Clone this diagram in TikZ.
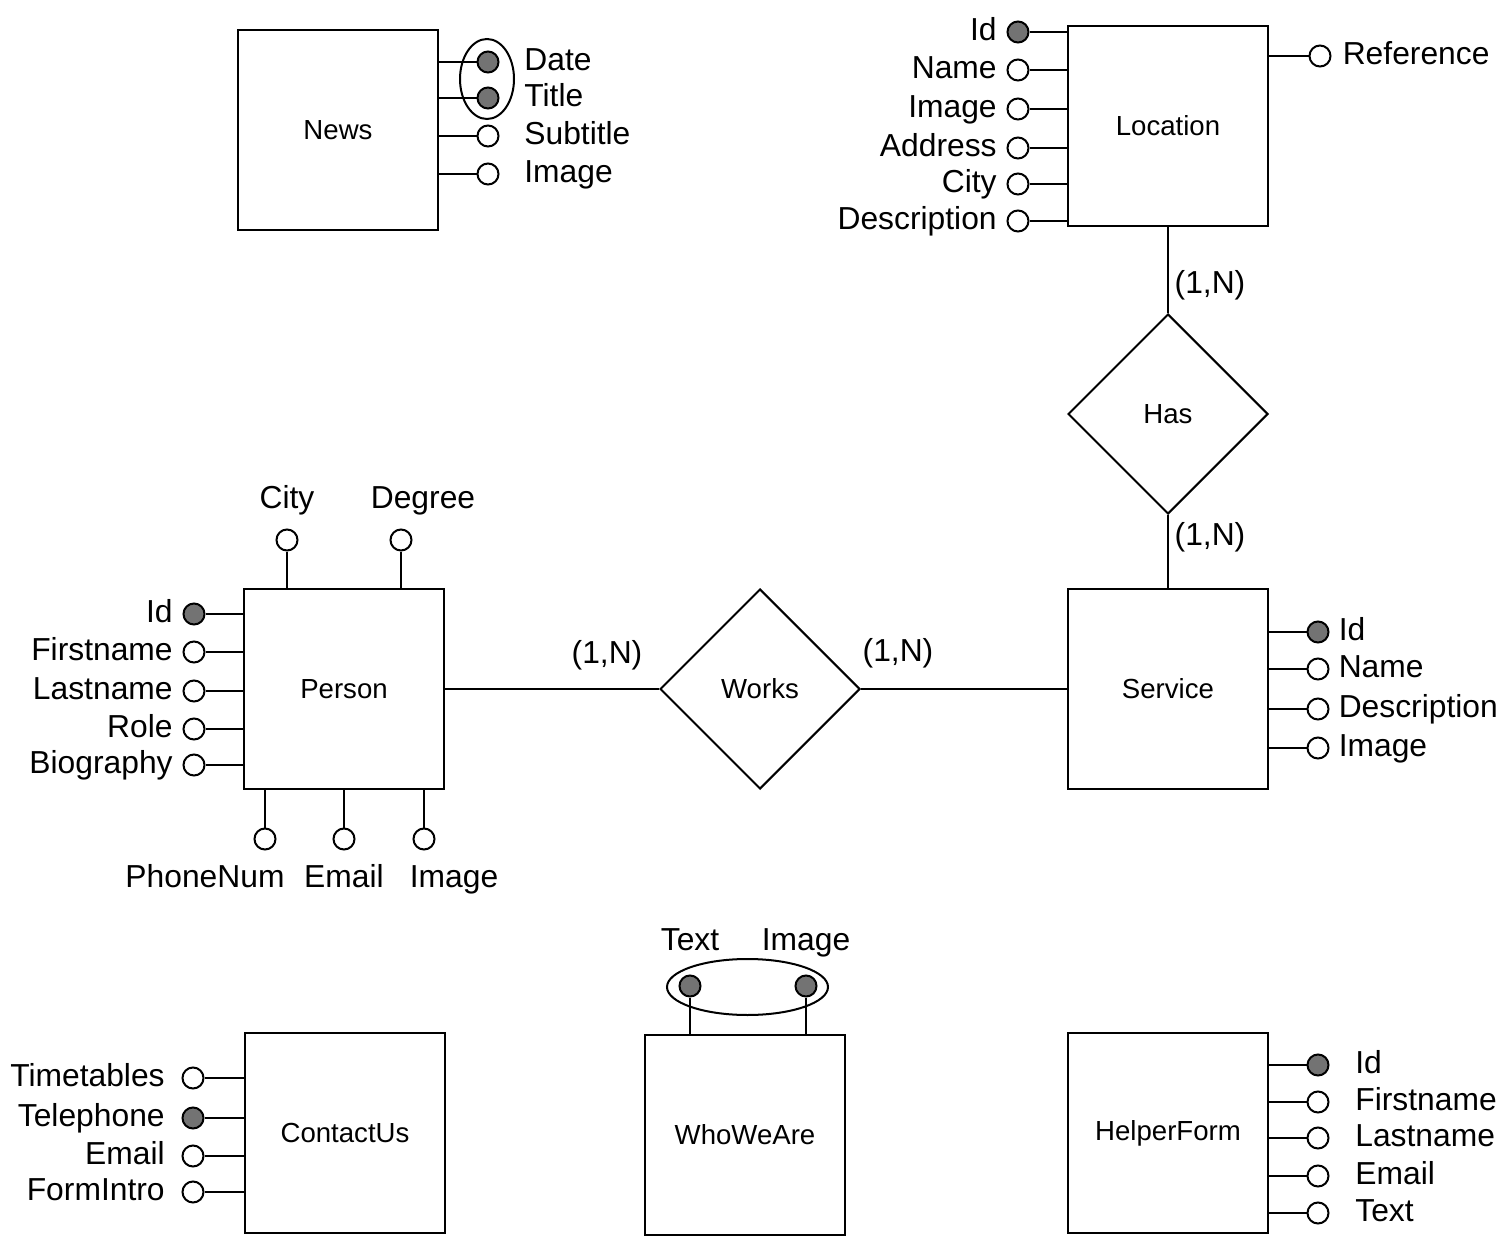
\documentclass[tikz,border=0pt]{standalone}
\usepackage{fontspec}
\setmainfont{Liberation Sans}
\usetikzlibrary{shapes.geometric}
\newcommand{\attfont}{\fontsize{15.9}{18}\selectfont}
\newcommand{\entfont}{\fontsize{13.8}{16}\selectfont}

\begin{document}
\begin{tikzpicture}[x=0.5pt, y=-0.5pt, line width=1pt,
ent/.style={draw, minimum width=100pt, minimum height=100pt, inner sep=0pt, font=\entfont},
rel/.style={draw, diamond, minimum width=100pt, minimum height=100pt, inner sep=0pt, font=\entfont},
att/.style={draw, circle, minimum size=10.5pt, inner sep=0pt},
key/.style={att, fill=black!55},
card/.style={font=\attfont},
every label/.style={font=\attfont, text height=11.4pt, text depth=3.2pt}]
\useasboundingbox (0,0) rectangle (1500,1246);

% entities and relations
\node[ent] (news) at (338,130) {News};
\node[ent] (loc) at (1168,126) {Location};
\node[ent] (pers) at (344,689) {Person};
\node[ent] (serv) at (1168,689) {Service};
\node[ent] (cont) at (345,1133) {ContactUs};
\node[ent] (who) at (745,1135) {WhoWeAre};
\node[ent] (help) at (1168,1133) {HelperForm};
\node[rel] (has) at (1168,414) {Has};
\node[rel] (works) at (760,689) {Works};

\path (loc) edge (has)
      (has) edge (serv)
      (pers) edge (works)
      (works) edge (serv);

\node[card] (has-up) at (1210,285) {(1,N)};
\node[card] (has-dn) at (1210,537) {(1,N)};
\node[card] (works-l) at (607,655) {(1,N)};
\node[card] (works-r) at (898,653) {(1,N)};

% News
\begin{scope}[label distance=8.6pt]
\node[key, label=right:Date] (news-date) at (488,62) {};
\node[key, label=right:Title] (news-title) at (488,98) {};
\node[att, label=right:Subtitle] (news-sub) at (488,136) {};
\node[att, label=right:Image] (news-img) at (488,174) {};
\end{scope}
\draw (487,79) ellipse [x radius=13.5pt, y radius=20pt];
\path (news-date) edge (news-date -| news.east)
      (news-title) edge (news-title -| news.east)
      (news-sub) edge (news-sub -| news.east)
      (news-img) edge (news-img -| news.east);

% Location
\begin{scope}[label distance=1.1pt]
\node[key, label=left:Id] (loc-id) at (1018,32) {};
\node[att, label=left:Name] (loc-name) at (1018,70) {};
\node[att, label=left:Image] (loc-img) at (1018,109) {};
\node[att, label=left:Address] (loc-addr) at (1018,148) {};
\node[att, label=left:City] (loc-city) at (1018,184) {};
\node[att, label=left:Description] (loc-desc) at (1018,221) {};
\node[att, label={[label distance=1.8pt]right:Reference}] (loc-ref) at (1320,56) {};
\end{scope}
\path (loc-id) edge (loc-id -| loc.west)
      (loc-name) edge (loc-name -| loc.west)
      (loc-img) edge (loc-img -| loc.west)
      (loc-addr) edge (loc-addr -| loc.west)
      (loc-city) edge (loc-city -| loc.west)
      (loc-desc) edge (loc-desc -| loc.west)
      (loc-ref) edge (loc-ref -| loc.east);

% Person
\begin{scope}[label distance=1.1pt]
\node[key, label=left:Id] (pers-id) at (194,614) {};
\node[att, label=left:Firstname] (pers-first) at (194,652) {};
\node[att, label=left:Lastname] (pers-last) at (194,691) {};
\node[att, label=left:Role] (pers-role) at (194,729) {};
\node[att, label=left:Biography] (pers-bio) at (194,765) {};
\end{scope}
\begin{scope}[label distance=3.1pt]
\node[att, label=above:City] (pers-city) at (287,540) {};
\node[att, label={[xshift=11pt]above:Degree}] (pers-deg) at (401,540) {};
\node[att, label={[xshift=-30pt]below:PhoneNum}] (pers-phone) at (265,839) {};
\node[att, label=below:Email] (pers-mail) at (344,839) {};
\node[att, label={[xshift=15pt]below:Image}] (pers-img) at (424,839) {};
\end{scope}
\path (pers-id) edge (pers-id -| pers.west)
      (pers-first) edge (pers-first -| pers.west)
      (pers-last) edge (pers-last -| pers.west)
      (pers-role) edge (pers-role -| pers.west)
      (pers-bio) edge (pers-bio -| pers.west)
      (pers-city) edge (pers-city |- pers.north)
      (pers-deg) edge (pers-deg |- pers.north)
      (pers-phone) edge (pers-phone |- pers.south)
      (pers-mail) edge (pers-mail |- pers.south)
      (pers-img) edge (pers-img |- pers.south);

% Service
\begin{scope}[label distance=0.8pt]
\node[key, label=right:Id] (serv-id) at (1318,632) {};
\node[att, label=right:Name] (serv-name) at (1318,669) {};
\node[att, label=right:Description] (serv-desc) at (1318,709) {};
\node[att, label=right:Image] (serv-img) at (1318,748) {};
\end{scope}
\path (serv-id) edge (serv-id -| serv.east)
      (serv-name) edge (serv-name -| serv.east)
      (serv-desc) edge (serv-desc -| serv.east)
      (serv-img) edge (serv-img -| serv.east);

% ContactUs
\begin{scope}[label distance=4.6pt]
\node[att, label=left:Timetables] (cont-time) at (193,1078) {};
\node[key, label=left:Telephone] (cont-tel) at (193,1118) {};
\node[att, label=left:Email] (cont-mail) at (193,1156) {};
\node[att, label=left:FormIntro] (cont-intro) at (193,1192) {};
\end{scope}
\path (cont-time) edge (cont-time -| cont.west)
      (cont-tel) edge (cont-tel -| cont.west)
      (cont-mail) edge (cont-mail -| cont.west)
      (cont-intro) edge (cont-intro -| cont.west);

% WhoWeAre
\begin{scope}[label distance=5.1pt]
\node[key, label=above:Text] (who-text) at (690,986) {};
\node[key, label=above:Image] (who-img) at (806,986) {};
\end{scope}
\draw (747.5,987) ellipse [x radius=40.25pt, y radius=14pt];
\path (who-text) edge (who-text |- who.north)
      (who-img) edge (who-img |- who.north);

% HelperForm
\begin{scope}[label distance=9.1pt]
\node[key, label=right:Id] (help-id) at (1318,1065) {};
\node[att, label=right:Firstname] (help-first) at (1318,1102) {};
\node[att, label=right:Lastname] (help-last) at (1318,1138) {};
\node[att, label=right:Email] (help-mail) at (1318,1176) {};
\node[att, label=right:Text] (help-text) at (1318,1213) {};
\end{scope}
\path (help-id) edge (help-id -| help.east)
      (help-first) edge (help-first -| help.east)
      (help-last) edge (help-last -| help.east)
      (help-mail) edge (help-mail -| help.east)
      (help-text) edge (help-text -| help.east);
\end{tikzpicture}
\end{document}
